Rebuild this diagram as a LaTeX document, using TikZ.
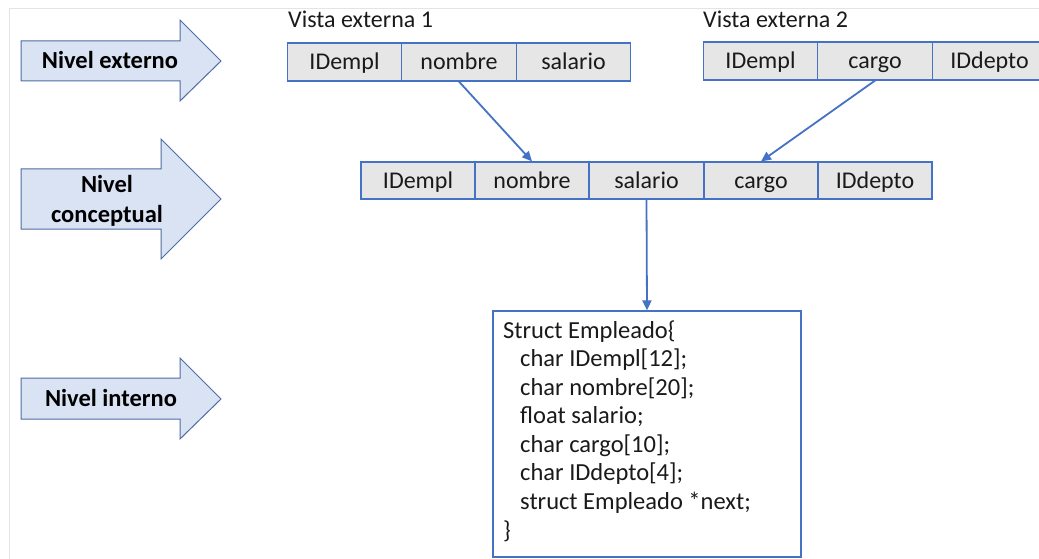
\documentclass[tikz,border=0pt]{standalone}
\usepackage{fontspec}
\setmainfont{Carlito}
\usetikzlibrary{arrows.meta}
\definecolor{lineblue}{HTML}{4472C4}
\definecolor{arrowfill}{HTML}{DAE3F3}
\definecolor{arrowedge}{HTML}{4F6CA3}
\definecolor{cellgray}{HTML}{E7E6E6}
\definecolor{framegray}{HTML}{E4E4E4}
\definecolor{ink}{HTML}{1A1A1A}
\tikzset{
  cell/.style={draw=lineblue, line width=1.2pt, fill=cellgray, text=ink,
    minimum width=114.5pt, minimum height=38pt, inner sep=0pt,
    text height=15.5pt, text depth=0pt},
  blockarrow/.style={draw=arrowedge, line width=1pt, fill=arrowfill, line join=miter},
  levellabel/.style={font=\fontsize{24.5}{29}\selectfont\bfseries, text=black, inner sep=0pt, align=center},
  viewtitle/.style={anchor=base west, inner sep=0pt, text=ink},
  codeline/.style={anchor=base west, inner sep=0pt, text=ink, font=\fontsize{24.5}{29}\selectfont},
  link/.style={draw=lineblue, line width=1.8pt, -{Triangle[length=10pt,width=9pt]}},
  codebox/.style={draw=lineblue, line width=1.2pt, fill=white, minimum width=308pt,
    minimum height=246pt, inner sep=0pt},
}
\begin{document}
\begin{tikzpicture}[x=1pt, y=-1pt, font=\fontsize{24}{29}\selectfont]
\useasboundingbox (0,0) rectangle (1039,559);
\clip (0,0) rectangle (1039,559);
% page frame
\draw[framegray, line width=1pt] (9.5,559) -- (9.5,8.5) -- (1039,8.5);

% level arrows
\draw[blockarrow] (21,41) -- (180,41) -- (180,20) -- (221,61) -- (180,101) -- (180,81) -- (21,81) -- cycle;
\node[levellabel, text height=15.5pt, text depth=0pt] (lext) at (110,61) {Nivel externo};
\draw[blockarrow] (21,169) -- (161,169) -- (161,139) -- (221,199) -- (161,259) -- (161,229) -- (21,229) -- cycle;
\node[levellabel, anchor=base] (lcon1) at (107,193) {Nivel};
\node[levellabel, anchor=base] (lcon2) at (107,222) {conceptual};
\draw[blockarrow] (21,378) -- (180,378) -- (180,358) -- (221,399) -- (180,439) -- (180,419) -- (21,419) -- cycle;
\node[levellabel, text height=15.5pt, text depth=0pt] (lint) at (111,399) {Nivel interno};

% external view 1
\node[viewtitle] (t1) at (288,28) {Vista externa 1};
\node[cell] (a1) at (344.5,62) {IDempl};
\node[cell] (a2) at (459,62) {nombre};
\node[cell] (a3) at (573.5,62) {salario};

% external view 2
\node[viewtitle] (t2) at (703,28) {Vista externa 2};
\node[cell] (b1) at (760.5,61) {IDempl};
\node[cell] (b2) at (875,61) {cargo};
\node[cell] (b3) at (989.5,61) {IDdepto};

% conceptual record
\node[cell, minimum width=114pt, minimum height=37pt] (c1) at (418,180.5) {IDempl};
\node[cell, minimum width=114pt, minimum height=37pt] (c2) at (532,180.5) {nombre};
\node[cell, minimum width=114pt, minimum height=37pt] (c3) at (646.5,180.5) {salario};
\node[cell, minimum width=114pt, minimum height=37pt] (c4) at (761,180.5) {cargo};
\node[cell, minimum width=114pt, minimum height=37pt] (c5) at (875,180.5) {IDdepto};

% internal structure
\node[codebox] (code) at (647,434) {};
\node[codeline] (s1) at (503,338) {Struct Empleado\{};
\node[codeline] (s2) at (520,366.5) {char IDempl[12];};
\node[codeline] (s3) at (520,395) {char nombre[20];};
\node[codeline] (s4) at (520,423.5) {float salario;};
\node[codeline] (s5) at (520,452) {char cargo[10];};
\node[codeline] (s6) at (520,480.5) {char IDdepto[4];};
\node[codeline] (s7) at (520,509) {struct Empleado *next;};
\node[codeline] (s8) at (503,538) {\}};

% mappings between levels
\draw[link, shorten <=-0.6pt] (a2.south) -- (c2.north);
\draw[link, shorten <=-0.6pt] (b2.south) -- (c4.north);
\draw[link, shorten <=-0.6pt] (c3.south) -- (code.north);
\end{tikzpicture}
\end{document}
